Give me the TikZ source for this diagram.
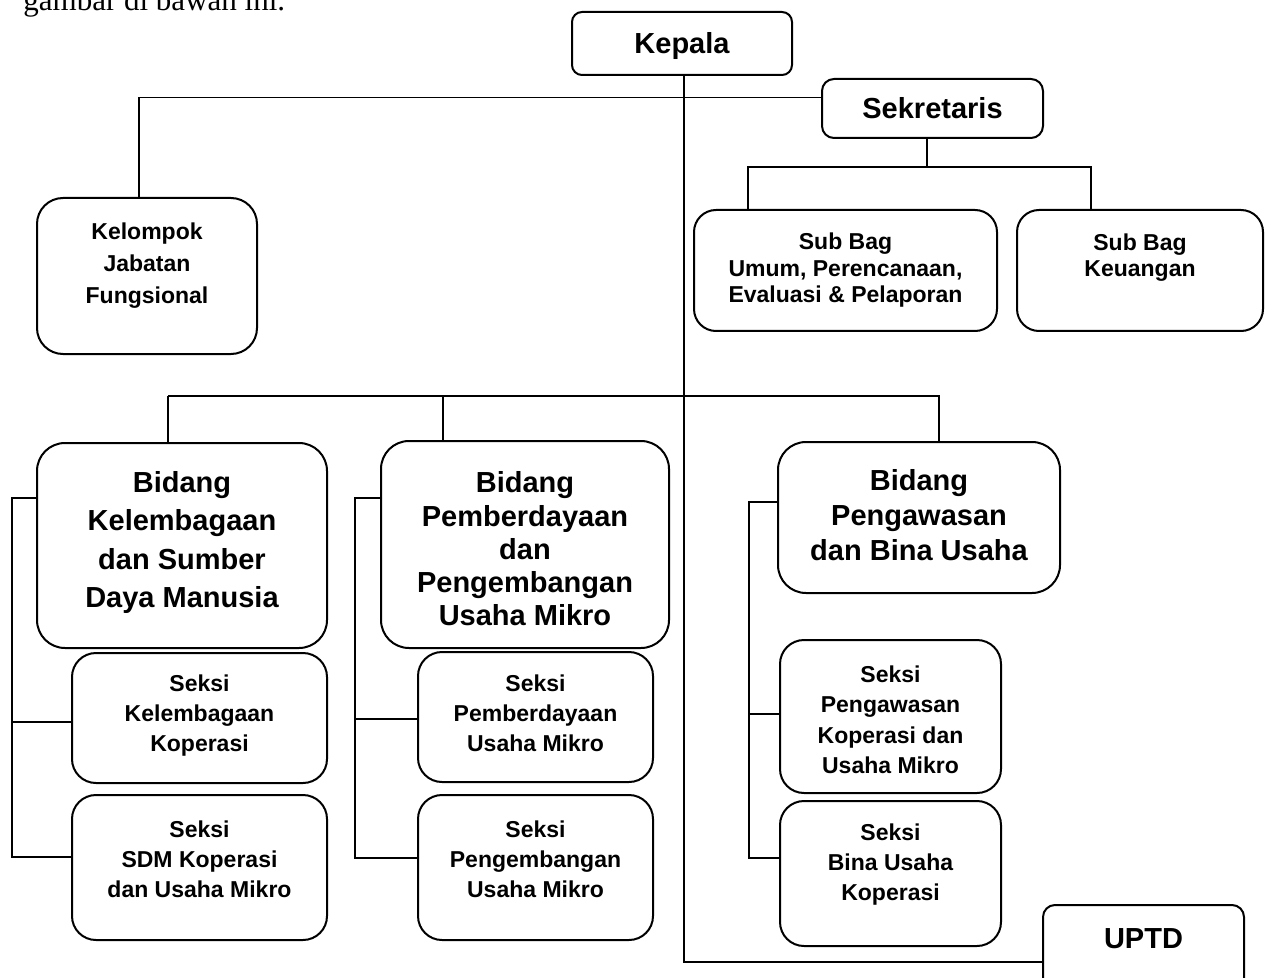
\documentclass[tikz,border=0pt]{standalone}
\usepackage{fontspec}
\setmainfont{Liberation Sans}
\newfontfamily\introfont{Liberation Serif}
\usepackage{tikz}
\usetikzlibrary{fit}

\begin{document}
\begin{tikzpicture}[x=0.5pt, y=-0.5pt,
  box/.style={draw, line width=1pt, inner sep=0pt},
  big/.style={font=\fontsize{14.5}{17}\bfseries, align=center},
  small/.style={font=\fontsize{11.5}{14.5}\bfseries, align=center},
  link/.style={line width=0.9pt}]
\useasboundingbox (0,0) rectangle (1267,978);

% Intro text (cut off at the top)
\node[anchor=base west, inner sep=0pt, font=\introfont\fontsize{15.5}{18}\selectfont] (intro) at (23,11) {gambar di bawah ini.};

% Kepala, Sekretaris, Kelompok Jabatan Fungsional
\node[box, rounded corners=5pt, fit={(572,12) (792,75)}, label={[big, yshift=-1.5pt]center:{Kepala}}] (kepala) {};
\node[box, rounded corners=6pt, fit={(822,79) (1043,138)}, label={[big, yshift=0pt]center:{Sekretaris}}] (sekre) {};
\node[box, rounded corners=13pt, fit={(37,198) (257,354)},
  label={[small, font=\fontsize{11.5}{16}\bfseries, yshift=5.25pt]center:{Kelompok\\Jabatan\\Fungsional}}] (kjf) {};

% Sub Bagian
\node[box, rounded corners=11pt, fit={(694,210) (997,331)},
  label={[small, font=\fontsize{11.5}{13.25}\bfseries, yshift=0pt]center:{Sub Bag\\Umum, Perencanaan,\\Evaluasi \& Pelaporan}}] (sbumum) {};
\node[box, rounded corners=11pt, fit={(1017,210) (1263,331)},
  label={[small, font=\fontsize{11.5}{13.25}\bfseries, yshift=6.5pt]center:{Sub Bag\\Keuangan}}] (sbkeu) {};

% Bidang
\node[box, rounded corners=14pt, fit={(37,443) (327,648)},
  label={[big, font=\fontsize{14.5}{19.25}\bfseries, yshift=1.5pt]center:{Bidang\\Kelembagaan\\dan Sumber\\Daya Manusia}}] (bid1) {};
\node[box, rounded corners=14pt, fit={(381,441) (669,648)},
  label={[big, font=\fontsize{14.5}{16.6}\bfseries, yshift=-2.25pt]center:{Bidang\\Pemberdayaan\\dan\\Pengembangan\\Usaha Mikro}}] (bid2) {};
\node[box, rounded corners=14pt, fit={(778,442) (1060,593)},
  label={[big, font=\fontsize{14.5}{17.5}\bfseries, yshift=1pt]center:{Bidang\\Pengawasan\\dan Bina Usaha}}] (bid3) {};

% Seksi
\node[box, rounded corners=12pt, fit={(72,653) (327,783)},
  label={[small, font=\fontsize{11.5}{15}\bfseries, yshift=1.25pt]center:{Seksi\\Kelembagaan\\Koperasi}}] (sk1) {};
\node[box, rounded corners=12pt, fit={(72,795) (327,940)},
  label={[small, font=\fontsize{11.5}{15}\bfseries, yshift=4pt]center:{Seksi\\SDM Koperasi\\dan Usaha Mikro}}] (sk2) {};
\node[box, rounded corners=12pt, fit={(418,652) (653,782)},
  label={[small, font=\fontsize{11.5}{15}\bfseries, yshift=1.75pt]center:{Seksi\\Pemberdayaan\\Usaha Mikro}}] (sp1) {};
\node[box, rounded corners=12pt, fit={(418,795) (653,940)},
  label={[small, font=\fontsize{11.5}{15}\bfseries, yshift=4pt]center:{Seksi\\Pengembangan\\Usaha Mikro}}] (sp2) {};
\node[box, rounded corners=12pt, fit={(780,640) (1001,793)},
  label={[small, font=\fontsize{11.5}{15.25}\bfseries, yshift=-1.75pt]center:{Seksi\\Pengawasan\\Koperasi dan\\Usaha Mikro}}] (sw1) {};
\node[box, rounded corners=12pt, fit={(780,801) (1001,946)},
  label={[small, font=\fontsize{11.5}{15}\bfseries, yshift=4.5pt]center:{Seksi\\Bina Usaha\\Koperasi}}] (sw2) {};

% UPTD (runs off the bottom)
\node[box, rounded corners=6pt, fit={(1043,905) (1244,1019)}, label={[big, yshift=11.5pt]center:{UPTD}}] (uptd) {};

% Garis komando
\draw[link] ([xshift=1pt]kepala.south) |- (uptd.west);
\draw[link] ([yshift=5.5pt]sekre.west) -| ([xshift=-4pt]kjf.north);

% Sekretaris ke Sub Bag
\draw[link] ([xshift=-2.75pt]sekre.south) -- ++(0,28) coordinate (sekj);
\draw[link] ([xshift=-48.75pt]sbumum.north) |- (sekj) -| ([xshift=-24.5pt]sbkeu.north);

% Bidang
\draw[link] ([xshift=-7pt]bid1.north) -- ++(0,-46) coordinate (busl);
\draw[link] (busl) -| ([xshift=10pt]bid3.north);
\draw[link] ([xshift=-41pt]bid2.north) -- ++(0,-44);

% Seksi per bidang
\draw[link] ([yshift=23.75pt]bid1.west) -- ++(-24,0) |- ([yshift=5.25pt]sk2.west);
\draw[link] ([yshift=-2pt]sk1.west) -- ++(-59,0);
\draw[link] ([yshift=23.25pt]bid2.west) -- ++(-25,0) |- ([yshift=4.75pt]sp2.west);
\draw[link] ([yshift=-1pt]sp1.west) -- ++(-62,0);
\draw[link] ([yshift=7.75pt]bid3.west) -- ++(-28,0) |- ([yshift=7.75pt]sw2.west);
\draw[link] ([yshift=1.25pt]sw1.west) -- ++(-30,0);

\end{tikzpicture}
\end{document}
